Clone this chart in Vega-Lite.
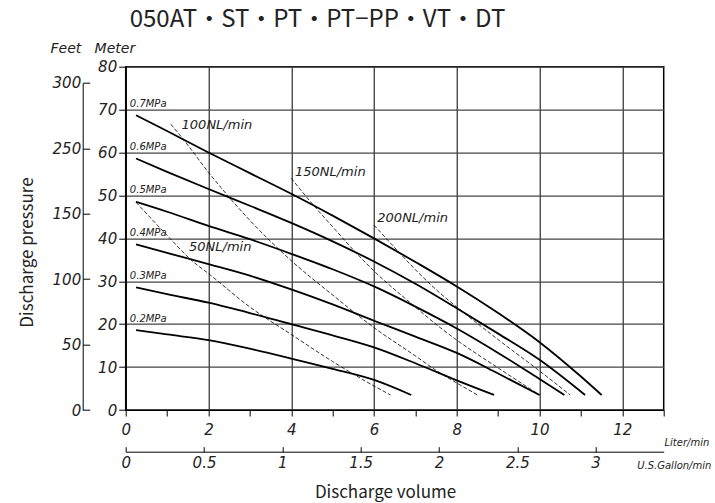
{
  "$schema": "https://vega.github.io/schema/vega-lite/v6.json",
  "width": 538,
  "height": 343.3,
  "autosize": {"type": "none"},
  "padding": {"left": 125.7, "top": 66.7, "right": 51.3, "bottom": 93},
  "background": "white",
  "config": {
    "view": {"stroke": "black", "strokeWidth": 1.5},
    "axis": {
      "labelFont": "DejaVu Sans", "labelFontStyle": "italic", "labelColor": "#222",
      "labelFontSize": 15, "labelFlush": false, "labelOverlap": false, "labelBound": false,
      "tickColor": "black", "domainColor": "black", "titleColor": "#222",
      "titleFontWeight": "normal"
    }
  },
  "title": {
    "text": "050AT・ST・PT・PT−PP・VT・DT",
    "anchor": "start", "frame": "group", "dx": 4, "offset": -9, "baseline": "alphabetic",
    "font": "Noto Sans CJK JP", "fontSize": 24, "fontWeight": "normal", "color": "#222"
  },
  "datasets": {
    "curves": [
      {"s": "0.7MPa", "k": "solid", "L": 0.25, "m": 68.7},
      {"s": "0.7MPa", "k": "solid", "L": 1, "m": 65.0},
      {"s": "0.7MPa", "k": "solid", "L": 2, "m": 60.0},
      {"s": "0.7MPa", "k": "solid", "L": 3, "m": 55.2},
      {"s": "0.7MPa", "k": "solid", "L": 4, "m": 50.4},
      {"s": "0.7MPa", "k": "solid", "L": 5, "m": 45.3},
      {"s": "0.7MPa", "k": "solid", "L": 6, "m": 40.0},
      {"s": "0.7MPa", "k": "solid", "L": 7, "m": 34.5},
      {"s": "0.7MPa", "k": "solid", "L": 8, "m": 28.8},
      {"s": "0.7MPa", "k": "solid", "L": 9, "m": 22.6},
      {"s": "0.7MPa", "k": "solid", "L": 10, "m": 15.8},
      {"s": "0.7MPa", "k": "solid", "L": 11, "m": 7.8},
      {"s": "0.7MPa", "k": "solid", "L": 11.5, "m": 3.5},
      {"s": "0.6MPa", "k": "solid", "L": 0.25, "m": 58.6},
      {"s": "0.6MPa", "k": "solid", "L": 1, "m": 55.5},
      {"s": "0.6MPa", "k": "solid", "L": 2, "m": 51.5},
      {"s": "0.6MPa", "k": "solid", "L": 3, "m": 47.6},
      {"s": "0.6MPa", "k": "solid", "L": 4, "m": 43.6},
      {"s": "0.6MPa", "k": "solid", "L": 5, "m": 39.3},
      {"s": "0.6MPa", "k": "solid", "L": 6, "m": 34.6},
      {"s": "0.6MPa", "k": "solid", "L": 7, "m": 29.4},
      {"s": "0.6MPa", "k": "solid", "L": 8, "m": 23.7},
      {"s": "0.6MPa", "k": "solid", "L": 9, "m": 17.8},
      {"s": "0.6MPa", "k": "solid", "L": 10, "m": 11.7},
      {"s": "0.6MPa", "k": "solid", "L": 11.1, "m": 3.5},
      {"s": "0.5MPa", "k": "solid", "L": 0.25, "m": 48.5},
      {"s": "0.5MPa", "k": "solid", "L": 1, "m": 46.2},
      {"s": "0.5MPa", "k": "solid", "L": 2, "m": 42.9},
      {"s": "0.5MPa", "k": "solid", "L": 3, "m": 39.8},
      {"s": "0.5MPa", "k": "solid", "L": 4, "m": 36.4},
      {"s": "0.5MPa", "k": "solid", "L": 5, "m": 32.8},
      {"s": "0.5MPa", "k": "solid", "L": 6, "m": 28.8},
      {"s": "0.5MPa", "k": "solid", "L": 7, "m": 24.1},
      {"s": "0.5MPa", "k": "solid", "L": 8, "m": 19.0},
      {"s": "0.5MPa", "k": "solid", "L": 9, "m": 13.3},
      {"s": "0.5MPa", "k": "solid", "L": 10, "m": 7.2},
      {"s": "0.5MPa", "k": "solid", "L": 10.6, "m": 3.5},
      {"s": "0.4MPa", "k": "solid", "L": 0.25, "m": 38.6},
      {"s": "0.4MPa", "k": "solid", "L": 1, "m": 36.6},
      {"s": "0.4MPa", "k": "solid", "L": 2, "m": 34.0},
      {"s": "0.4MPa", "k": "solid", "L": 3, "m": 31.3},
      {"s": "0.4MPa", "k": "solid", "L": 4, "m": 28.1},
      {"s": "0.4MPa", "k": "solid", "L": 5, "m": 24.6},
      {"s": "0.4MPa", "k": "solid", "L": 6, "m": 20.8},
      {"s": "0.4MPa", "k": "solid", "L": 7, "m": 17.1},
      {"s": "0.4MPa", "k": "solid", "L": 8, "m": 13.3},
      {"s": "0.4MPa", "k": "solid", "L": 9, "m": 8.5},
      {"s": "0.4MPa", "k": "solid", "L": 10, "m": 3.5},
      {"s": "0.3MPa", "k": "solid", "L": 0.25, "m": 28.6},
      {"s": "0.3MPa", "k": "solid", "L": 1, "m": 27.0},
      {"s": "0.3MPa", "k": "solid", "L": 2, "m": 25.0},
      {"s": "0.3MPa", "k": "solid", "L": 3, "m": 22.6},
      {"s": "0.3MPa", "k": "solid", "L": 4, "m": 20.0},
      {"s": "0.3MPa", "k": "solid", "L": 5, "m": 17.4},
      {"s": "0.3MPa", "k": "solid", "L": 6, "m": 14.6},
      {"s": "0.3MPa", "k": "solid", "L": 7, "m": 10.9},
      {"s": "0.3MPa", "k": "solid", "L": 8, "m": 6.9},
      {"s": "0.3MPa", "k": "solid", "L": 8.9, "m": 3.5},
      {"s": "0.2MPa", "k": "solid", "L": 0.25, "m": 18.6},
      {"s": "0.2MPa", "k": "solid", "L": 1, "m": 17.6},
      {"s": "0.2MPa", "k": "solid", "L": 2, "m": 16.3},
      {"s": "0.2MPa", "k": "solid", "L": 3, "m": 14.3},
      {"s": "0.2MPa", "k": "solid", "L": 4, "m": 12.0},
      {"s": "0.2MPa", "k": "solid", "L": 5, "m": 9.6},
      {"s": "0.2MPa", "k": "solid", "L": 6, "m": 7.0},
      {"s": "0.2MPa", "k": "solid", "L": 6.9, "m": 3.5},
      {"s": "50NL", "k": "dash", "L": 0.25, "m": 48.4},
      {"s": "50NL", "k": "dash", "L": 1, "m": 40.7},
      {"s": "50NL", "k": "dash", "L": 1.6, "m": 34.8},
      {"s": "50NL", "k": "dash", "L": 2, "m": 31.8},
      {"s": "50NL", "k": "dash", "L": 3, "m": 24.0},
      {"s": "50NL", "k": "dash", "L": 4, "m": 17.6},
      {"s": "50NL", "k": "dash", "L": 5, "m": 11.3},
      {"s": "50NL", "k": "dash", "L": 6, "m": 5.6},
      {"s": "50NL", "k": "dash", "L": 6.4, "m": 3.5},
      {"s": "100NL", "k": "dash", "L": 1.09, "m": 66.6},
      {"s": "100NL", "k": "dash", "L": 1.39, "m": 63.1},
      {"s": "100NL", "k": "dash", "L": 2, "m": 55.4},
      {"s": "100NL", "k": "dash", "L": 3, "m": 44.2},
      {"s": "100NL", "k": "dash", "L": 4, "m": 34.8},
      {"s": "100NL", "k": "dash", "L": 5, "m": 26.8},
      {"s": "100NL", "k": "dash", "L": 6, "m": 19.2},
      {"s": "100NL", "k": "dash", "L": 7, "m": 12.6},
      {"s": "100NL", "k": "dash", "L": 7.6, "m": 8.6},
      {"s": "100NL", "k": "dash", "L": 8, "m": 6.3},
      {"s": "100NL", "k": "dash", "L": 8.5, "m": 3.5},
      {"s": "150NL", "k": "dash", "L": 4, "m": 54.0},
      {"s": "150NL", "k": "dash", "L": 4.53, "m": 47.8},
      {"s": "150NL", "k": "dash", "L": 5, "m": 42.7},
      {"s": "150NL", "k": "dash", "L": 5.58, "m": 36.5},
      {"s": "150NL", "k": "dash", "L": 6, "m": 32.4},
      {"s": "150NL", "k": "dash", "L": 7, "m": 24.0},
      {"s": "150NL", "k": "dash", "L": 7.6, "m": 19.2},
      {"s": "150NL", "k": "dash", "L": 8, "m": 16.3},
      {"s": "150NL", "k": "dash", "L": 9, "m": 9.8},
      {"s": "150NL", "k": "dash", "L": 10, "m": 3.5},
      {"s": "200NL", "k": "dash", "L": 6, "m": 43.1},
      {"s": "200NL", "k": "dash", "L": 6.55, "m": 37.3},
      {"s": "200NL", "k": "dash", "L": 7, "m": 32.7},
      {"s": "200NL", "k": "dash", "L": 7.6, "m": 27.2},
      {"s": "200NL", "k": "dash", "L": 8, "m": 24.0},
      {"s": "200NL", "k": "dash", "L": 9, "m": 16.4},
      {"s": "200NL", "k": "dash", "L": 10, "m": 9.1},
      {"s": "200NL", "k": "dash", "L": 10.74, "m": 3.5}
    ],
    "labels": [
      {"t": "0.7MPa", "k": "mpa", "L": 0.1, "m": 71.3},
      {"t": "0.6MPa", "k": "mpa", "L": 0.1, "m": 61.3},
      {"t": "0.5MPa", "k": "mpa", "L": 0.1, "m": 51.3},
      {"t": "0.4MPa", "k": "mpa", "L": 0.1, "m": 41.3},
      {"t": "0.3MPa", "k": "mpa", "L": 0.1, "m": 31.3},
      {"t": "0.2MPa", "k": "mpa", "L": 0.1, "m": 21.3},
      {"t": "100NL/min", "k": "nl", "L": 1.35, "m": 66.4},
      {"t": "150NL/min", "k": "nl", "L": 4.09, "m": 55.5},
      {"t": "200NL/min", "k": "nl", "L": 6.08, "m": 44.7},
      {"t": "50NL/min", "k": "nl", "L": 1.53, "m": 37.9}
    ]
  },
  "layer": [
    {
      "encoding": {
        "x": {
          "field": "L", "type": "quantitative",
          "scale": {"domain": [0, 13], "nice": false, "zero": true},
          "axis": {
            "values": [0, 1, 2, 3, 4, 5, 6, 7, 8, 9, 10, 11, 12, 13],
            "labelExpr": "(datum.value % 2 == 0 && datum.value <= 12) ? datum.label : ''",
            "tickSize": 6, "labelPadding": 6,
            "grid": true, "gridColor": "black", "gridWidth": 1,
            "gridOpacity": {"condition": {"test": "datum.value % 2 == 1", "value": 0}, "value": 1},
            "title": "Liter/min", "titleX": 538.3, "titleY": 32, "titleAlign": "left",
            "titleBaseline": "middle", "titleFont": "DejaVu Sans", "titleFontStyle": "italic",
            "titleFontSize": 10
          }
        },
        "y": {
          "field": "m", "type": "quantitative",
          "scale": {"domain": [0, 80], "nice": false, "zero": true},
          "axis": {
            "values": [0, 10, 20, 30, 40, 50, 60, 70, 80],
            "tickSize": 7, "labelPadding": 2,
            "grid": true, "gridColor": "#444", "gridWidth": 1.2,
            "title": "Feet\u00a0\u00a0\u00a0Meter", "titleAngle": 0, "titleX": -75.7, "titleY": -17.7,
            "titleAlign": "left", "titleBaseline": "middle", "titleFont": "DejaVu Sans",
            "titleFontStyle": "italic", "titleFontSize": 14
          }
        }
      },
      "layer": [
        {
          "data": {"name": "curves"},
          "transform": [{"filter": "datum.k == 'solid'"}],
          "mark": {"type": "line", "color": "black", "strokeWidth": 1.8, "interpolate": "monotone"},
          "encoding": {"detail": {"field": "s"}}
        },
        {
          "data": {"name": "curves"},
          "transform": [{"filter": "datum.k == 'dash'"}],
          "mark": {"type": "line", "color": "black", "strokeWidth": 0.8, "strokeDash": [4, 2], "interpolate": "monotone"},
          "encoding": {"detail": {"field": "s"}}
        },
        {
          "data": {"name": "labels"},
          "transform": [{"filter": "datum.k == 'mpa'"}],
          "mark": {"type": "text", "align": "left", "baseline": "middle", "font": "DejaVu Sans", "fontStyle": "italic", "fontSize": 10, "color": "#222"},
          "encoding": {"text": {"field": "t"}}
        },
        {
          "data": {"name": "labels"},
          "transform": [{"filter": "datum.k == 'nl'"}],
          "mark": {"type": "text", "align": "left", "baseline": "middle", "font": "DejaVu Sans", "fontStyle": "italic", "fontSize": 13, "color": "#222"},
          "encoding": {"text": {"field": "t"}}
        }
      ]
    },
    {
      "data": {"values": []},
      "mark": {"type": "rule"},
      "encoding": {
        "y": {
          "field": "ft", "type": "quantitative",
          "scale": {"domain": [0, 250], "range": [343.3, 16.2], "nice": false, "zero": true},
          "axis": {
            "orient": "left", "offset": 43,
            "values": [0, 50, 100, 150, 200, 250],
            "labelExpr": "datum.value >= 200 ? format(datum.value + 50, 'd') : datum.label",
            "tickSize": -7, "labelPadding": 9, "grid": false,
            "title": "Discharge pressure", "titleX": -54.7, "titleY": 185.3, "titleAngle": -90,
            "titleAlign": "center", "titleBaseline": "middle",
            "titleFont": "Noto Sans CJK JP", "titleFontSize": 17
          }
        }
      }
    },
    {
      "data": {"values": []},
      "mark": {"type": "rule"},
      "encoding": {
        "x": {
          "field": "gal", "type": "quantitative",
          "scale": {"domain": [0, 3.4346], "nice": false, "zero": true},
          "axis": {
            "orient": "bottom", "offset": 41.7,
            "values": [0, 0.5, 1, 1.5, 2, 2.5, 3], "format": "~g",
            "tickSize": -5, "labelPadding": 9, "grid": false,
            "title": "U.S.Gallon/min", "titleX": 511, "titleY": 14, "titleAlign": "left",
            "titleBaseline": "middle", "titleFont": "DejaVu Sans", "titleFontStyle": "italic",
            "titleFontSize": 10
          }
        }
      }
    },
    {
      "data": {"values": []},
      "mark": {"type": "rule"},
      "encoding": {
        "x": {
          "field": "v", "type": "quantitative",
          "scale": {"domain": [0, 13], "nice": false},
          "axis": {
            "orient": "bottom", "domain": false, "ticks": false, "labels": false, "grid": false,
            "title": "Discharge volume", "titleX": 259.3, "titleY": 82, "titleAlign": "center",
            "titleBaseline": "middle", "titleFont": "Noto Sans CJK JP", "titleFontSize": 17
          }
        }
      }
    }
  ],
  "resolve": {"scale": {"x": "independent", "y": "independent"}}
}
